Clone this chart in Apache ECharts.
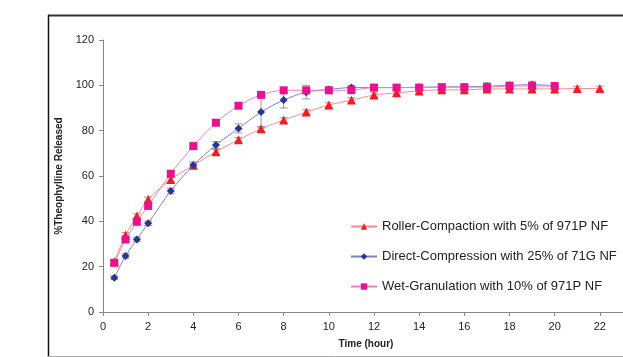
<!DOCTYPE html>
<html>
<head>
<meta charset="utf-8">
<script src="https://cdn.jsdelivr.net/npm/echarts@6/dist/echarts.min.js"></script>
<style>
  html, body { margin: 0; padding: 0; background: #fff; }
  #chart { width: 623px; height: 357px; }
</style>
</head>
<body>
<div id="chart"></div>
<script>
// time points (hour)
var time = [0.5, 1, 1.5, 2, 3, 4, 5, 6, 7, 8, 9, 10, 11, 12, 13, 14, 15, 16, 17, 18, 19, 20, 21, 22];

// % released
var roller = [22.2, 34, 42.3, 49.7, 58.5, 64.7, 70.7, 76, 80.8, 84.7, 88.2, 91.3, 93.5, 95.7, 96.7, 97.5, 98, 98, 98.4, 98.4, 98.4, 98.4, 98.6, 98.6];
var direct = [15.1, 24.7, 32, 39.1, 53.4, 64.7, 73.7, 81, 88.2, 93.5, 97, 98.2, 99, 99, 99, 99.2, 99.3, 99.4, 99.6, 100, 100.3, 99.8];
var wet = [21.7, 32, 39.8, 46.8, 61, 73.2, 83.5, 91, 95.8, 97.8, 97.8, 97.8, 97.9, 99, 99, 99, 99.2, 99.2, 99.2, 99.7, 99.7, 99.7];

// error bars (+/-)
var rollerErr = [1, 1, 1, 1, 1, 1, 1, 1, 1, 1, 1, 1, 1, 1, 1, 1, 1, 1, 1, 1, 1, 1, 1, 1];
var directErr = [0.8, 1, 1, 1, 1.2, 1.5, 1.5, 2, 7, 3.5, 3, 1, 1, 1, 1, 1, 1, 1, 1.5, 1.5, 1.5, 1];
var wetErr = [1, 1, 1, 1, 1, 1, 1, 1, 1, 1, 1, 1, 1, 1, 1, 1, 1, 1, 1, 1, 1, 1];

var names = [
    'Roller-Compaction with 5% of 971P NF',
    'Direct-Compression with 25% of 71G NF',
    'Wet-Granulation with 10% of 971P NF'
];

function pairs(vals) {
    return vals.map(function (v, i) { return [time[i], v]; });
}

function errData(vals, errs) {
    return vals.map(function (v, i) { return [time[i], v - errs[i], v + errs[i]]; });
}

function errRender(params, api) {
    var lo = api.coord([api.value(0), api.value(1)]);
    var hi = api.coord([api.value(0), api.value(2)]);
    var w = 4;
    return {
        type: 'group',
        children: [
            { type: 'line', shape: { x1: lo[0], y1: lo[1], x2: hi[0], y2: hi[1] }, style: { stroke: '#9a9a9a', lineWidth: 1 } },
            { type: 'line', shape: { x1: lo[0] - w, y1: lo[1], x2: lo[0] + w, y2: lo[1] }, style: { stroke: '#9a9a9a', lineWidth: 1 } },
            { type: 'line', shape: { x1: hi[0] - w, y1: hi[1], x2: hi[0] + w, y2: hi[1] }, style: { stroke: '#9a9a9a', lineWidth: 1 } }
        ]
    };
}

var myChart = echarts.init(document.getElementById('chart'));

var option = {
    animation: false,
    textStyle: { fontFamily: 'Liberation Sans, Arial, sans-serif' },
    graphic: [
        { type: 'line', shape: { x1: 48, y1: 15.5, x2: 623, y2: 15.5 }, style: { stroke: '#333', lineWidth: 2 } },
        { type: 'line', shape: { x1: 48.5, y1: 15, x2: 48.5, y2: 357 }, style: { stroke: '#111', lineWidth: 1.5 } },
        { type: 'line', shape: { x1: 48, y1: 356.5, x2: 623, y2: 356.5 }, style: { stroke: '#aaa', lineWidth: 1 } }
    ],
    // the axis runs past the right edge of the picture
    grid: { left: 103, top: 40, width: 542, height: 272, outerBoundsMode: 'none' },
    legend: {
        data: names,
        orient: 'vertical',
        left: 345,
        top: 215,
        itemWidth: 26,
        itemHeight: 8,
        itemGap: 17,
        textStyle: { fontSize: 13, color: '#222' }
    },
    xAxis: {
        type: 'value',
        min: 0,
        max: 24,
        interval: 2,
        name: 'Time (hour)',
        nameLocation: 'middle',
        nameGap: 27,
        nameTextStyle: { fontSize: 10, fontWeight: 'bold', color: '#222', padding: [0, 16, 0, 0] },
        axisLine: { lineStyle: { color: '#888' } },
        axisTick: { show: true, length: 4, lineStyle: { color: '#888' } },
        axisLabel: { fontSize: 11, color: '#222', margin: 9 },
        splitLine: { show: false }
    },
    yAxis: {
        type: 'value',
        min: 0,
        max: 120,
        interval: 20,
        name: '%Theophylline Released',
        nameLocation: 'middle',
        nameGap: 33,
        nameTextStyle: { fontSize: 10, fontWeight: 'bold', color: '#222' },
        axisLine: { show: true, lineStyle: { color: '#888' } },
        axisTick: { show: true, length: 4, lineStyle: { color: '#888' } },
        axisLabel: { fontSize: 11, color: '#222', margin: 9 },
        splitLine: { show: false }
    },
    series: [
        { type: 'custom', renderItem: errRender, data: errData(roller, rollerErr), z: 1, silent: true },
        { type: 'custom', renderItem: errRender, data: errData(direct, directErr), z: 1, silent: true },
        { type: 'custom', renderItem: errRender, data: errData(wet, wetErr), z: 1, silent: true },
        {
            name: names[0],
            type: 'line',
            smooth: 0.3,
            data: pairs(roller),
            symbol: 'triangle',
            symbolSize: 9,
            lineStyle: { color: '#ff8a8a', width: 1 },
            itemStyle: { color: '#f21c24' },
            z: 3
        },
        {
            name: names[1],
            type: 'line',
            smooth: 0.3,
            data: pairs(direct),
            symbol: 'diamond',
            symbolSize: 8,
            lineStyle: { color: '#7a82c4', width: 1 },
            itemStyle: { color: '#283592' },
            z: 4
        },
        {
            name: names[2],
            type: 'line',
            smooth: 0.3,
            data: pairs(wet),
            symbol: 'rect',
            symbolSize: 8,
            lineStyle: { color: '#f27ec4', width: 1 },
            itemStyle: { color: '#e8128c' },
            z: 5
        }
    ]
};

myChart.setOption(option);
</script>
</body>
</html>
